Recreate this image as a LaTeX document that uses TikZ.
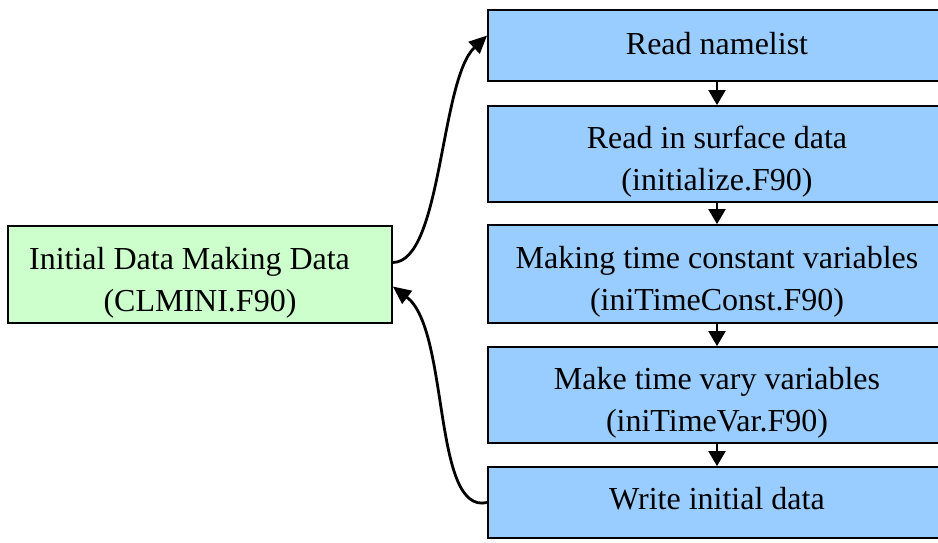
\documentclass[tikz,border=0pt]{standalone}
\usepackage{fontspec}
\setmainfont{Liberation Serif}
\usetikzlibrary{arrows.meta}
\definecolor{stepblue}{HTML}{99CCFF}
\definecolor{maingreen}{HTML}{CCFFCC}
\begin{document}
\begin{tikzpicture}[x=1pt,y=-1pt,
  every node/.style={font=\fontsize{32}{42}\selectfont, inner sep=0pt, align=center},
  stepbox/.style={draw=black, line width=1.8pt, fill=stepblue, minimum width=458pt},
  mainbox/.style={draw=black, line width=1.8pt, fill=maingreen, minimum width=384pt, minimum height=97pt},
  flow/.style={draw=black, line width=2pt, -{Triangle[length=15pt,width=17pt]}},
  loop/.style={draw=black, line width=2.8pt, -{Triangle[length=18pt,width=16pt]}}]
\useasboundingbox (0,0) rectangle (938,542);
\clip (0,0) rectangle (938,542);

% main program box and its label
\node[mainbox] (main) at (200,274.5) {};
\node (maintext) at (200,283) {Initial Data Making Data\hspace*{21pt}\\ (CLMINI.F90)};

% processing steps
\node[stepbox, minimum height=71pt] (s1) at (717,45.5) {};
\node[stepbox, minimum height=96pt] (s2) at (717,154) {};
\node[stepbox, minimum height=98pt] (s3) at (717,274) {};
\node[stepbox, minimum height=96pt] (s4) at (717,395) {};
\node[stepbox, minimum height=71pt] (s5) at (717,502.5) {};

\node (t1) at (717,44) {Read namelist};
\node (t2) at (717,162) {Read in surface data\\(initialize.F90)};
\node (t3) at (717,282) {Making time constant variables\\(iniTimeConst.F90)};
\node (t4) at (717,403) {Make time vary variables\\(iniTimeVar.F90)};
\node (t5) at (717,499) {Write initial data};

% sequence of steps
\draw[flow] (s1.south) -- (s2.north);
\draw[flow] (s2.south) -- (s3.north);
\draw[flow] (s3.south) -- (s4.north);
\draw[flow] (s4.south) -- (s5.north);

% call into the first step and return from the last one
\coordinate (callout) at ([yshift=12pt]main.east);
\coordinate (callin) at ([yshift=-12pt]main.east);
\coordinate (firstin) at ([yshift=10pt]s1.west);
\draw[loop] (callout) .. controls (442,262) and (440,80) .. (firstin);
\draw[loop] (s5.west) .. controls (432,515) and (450,330) .. (callin);
\end{tikzpicture}
\end{document}
